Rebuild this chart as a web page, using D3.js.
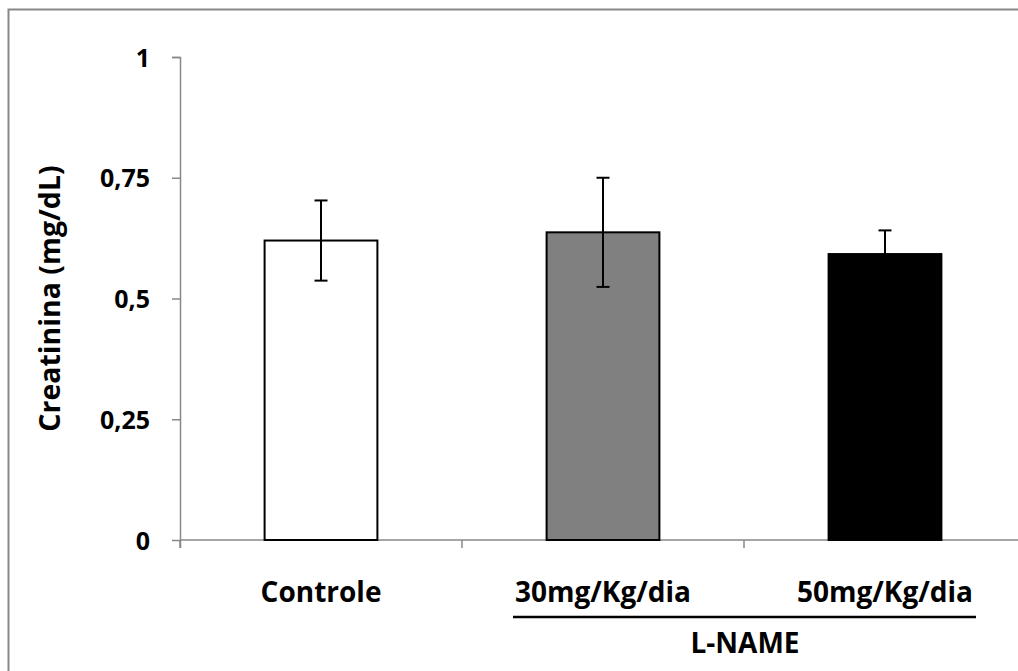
<!DOCTYPE html>
<html>
<head>
<meta charset="utf-8">
<script src="https://cdn.jsdelivr.net/npm/d3@7"></script>
<style>
  body { margin: 0; background: #fff; }
  text { font-family: "Open Sans", "Noto Sans", sans-serif; font-weight: bold; fill: #000; }
</style>
</head>
<body>
<div id="chart"></div>
<script>
const groups = ["Controle", "30mg/Kg/dia", "50mg/Kg/dia"];
const means = [0.62, 0.637, 0.592];
const errors = [0.083, 0.113, 0.049];
const fills = ["#ffffff", "#808080", "#000000"];
const yTicks = [0, 0.25, 0.5, 0.75, 1];
const yTickLabels = ["0", "0,25", "0,5", "0,75", "1"];

const width = 1018, height = 671;

const svg = d3.select("#chart")
  .append("svg")
  .attr("width", width)
  .attr("height", height);

// outer frame (runs off the right and bottom edges)
svg.append("rect")
  .attr("x", 8.5).attr("y", 9.5)
  .attr("width", 1030).attr("height", 700)
  .attr("fill", "none")
  .attr("stroke", "#888888")
  .attr("stroke-width", 2);

const x = d3.scaleBand()
  .domain(groups)
  .range([180, 1026])
  .paddingInner(0.6)
  .paddingOuter(0.3);

const y = d3.scaleLinear()
  .domain([0, 1])
  .range([540, 57]);

// y axis
const yAxis = d3.axisLeft(y)
  .tickValues(yTicks)
  .tickSize(8)
  .tickPadding(22)
  .tickFormat((d, i) => yTickLabels[i]);

const gy = svg.append("g")
  .attr("transform", "translate(180,0)")
  .call(yAxis);
gy.select(".domain").attr("stroke", "#888888").attr("stroke-width", 1.5)
  .attr("d", "M-8,57.5H0.5V548");
gy.selectAll(".tick line").attr("stroke", "#888888").attr("stroke-width", 1.5);
gy.selectAll(".tick text").style("font-size", "25px").attr("dy", "0.36em");

// x axis line + category boundary ticks
svg.append("line")
  .attr("x1", 180).attr("x2", 1026)
  .attr("y1", y(0)).attr("y2", y(0))
  .attr("stroke", "#888888").attr("stroke-width", 1.5);

svg.selectAll(".xtick")
  .data(groups)
  .join("line")
  .attr("class", "xtick")
  .attr("x1", d => x(d) - x.step() * 0.3)
  .attr("x2", d => x(d) - x.step() * 0.3)
  .attr("y1", y(0)).attr("y2", y(0) + 8)
  .attr("stroke", "#888888").attr("stroke-width", 1.5);

// bars
svg.selectAll(".bar")
  .data(groups)
  .join("rect")
  .attr("class", "bar")
  .attr("x", d => x(d))
  .attr("y", (d, i) => y(means[i]))
  .attr("width", x.bandwidth())
  .attr("height", (d, i) => y(0) - y(means[i]))
  .attr("fill", (d, i) => fills[i])
  .attr("stroke", "#000")
  .attr("stroke-width", 2);

// error bars
const eb = svg.selectAll(".err")
  .data(groups)
  .join("g")
  .attr("class", "err")
  .attr("transform", d => "translate(" + (x(d) + x.bandwidth() / 2) + ",0)");

eb.append("line")
  .attr("y1", (d, i) => y(means[i] + errors[i]))
  .attr("y2", (d, i) => y(means[i] - errors[i]))
  .attr("stroke", "#000").attr("stroke-width", 2);
eb.append("line")
  .attr("x1", -6.5).attr("x2", 6.5)
  .attr("y1", (d, i) => y(means[i] + errors[i]))
  .attr("y2", (d, i) => y(means[i] + errors[i]))
  .attr("stroke", "#000").attr("stroke-width", 2);
eb.append("line")
  .attr("x1", -6.5).attr("x2", 6.5)
  .attr("y1", (d, i) => y(means[i] - errors[i]))
  .attr("y2", (d, i) => y(means[i] - errors[i]))
  .attr("stroke", "#000").attr("stroke-width", 2);

// category labels
svg.selectAll(".xlabel")
  .data(groups)
  .join("text")
  .attr("class", "xlabel")
  .attr("x", d => x(d) + x.bandwidth() / 2)
  .attr("y", 602)
  .attr("text-anchor", "middle")
  .style("font-size", "28px")
  .text(d => d);

// L-NAME bracket
svg.append("line")
  .attr("x1", 513).attr("x2", 976)
  .attr("y1", 617).attr("y2", 617)
  .attr("stroke", "#000").attr("stroke-width", 2.5);

svg.append("text")
  .attr("x", 745).attr("y", 653)
  .attr("text-anchor", "middle")
  .style("font-size", "28px")
  .text("L-NAME");

// y title
svg.append("text")
  .attr("transform", "translate(60," + (y(0.5)) + ") rotate(-90)")
  .attr("text-anchor", "middle")
  .style("font-size", "28.5px")
  .text("Creatinina (mg/dL)");
</script>
</body>
</html>
